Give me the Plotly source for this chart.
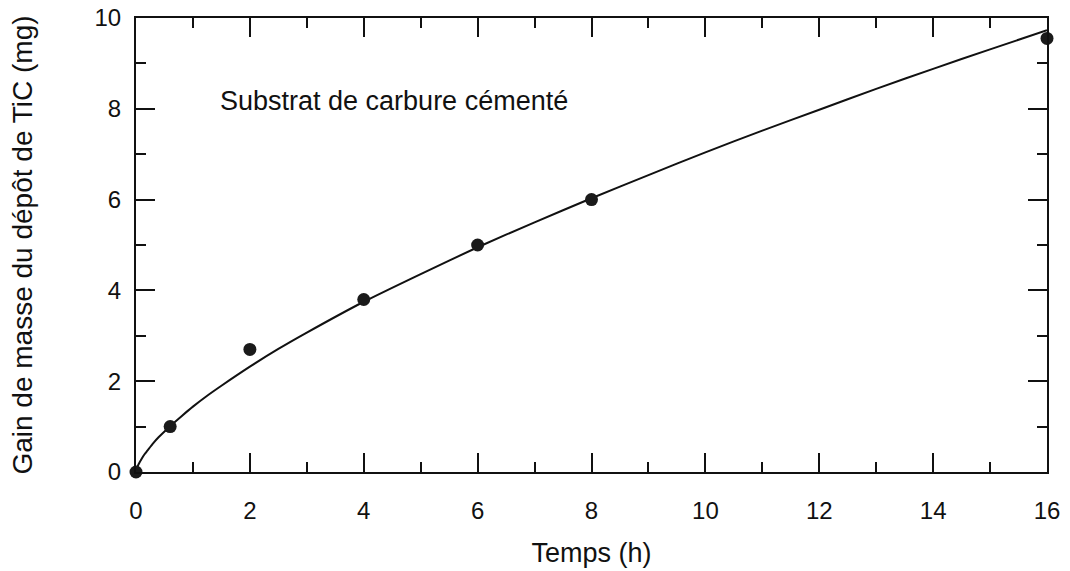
import plotly.graph_objects as go

# Measured data points
time_h = [0, 0.6, 2, 4, 6, 8, 16]
mass_mg = [0, 1.0, 2.7, 3.8, 5.0, 6.0, 9.55]

# Fitted curve, values
curve_x = [0, 0.02, 0.05, 0.1, 0.15, 0.2, 0.3, 0.4, 0.6, 0.8, 1, 1.25, 1.5, 2, 2.5, 3, 4, 5, 6, 7, 8, 9, 10, 11, 12, 13, 14, 15, 16]
curve_y = [0, 0.10, 0.18, 0.29, 0.39, 0.47, 0.63, 0.77, 1.01, 1.23, 1.44, 1.68, 1.90, 2.32, 2.71, 3.07, 3.75, 4.36, 4.95, 5.50, 6.03, 6.54, 7.04, 7.52, 7.98, 8.44, 8.88, 9.31, 9.73]

x_ticks = [0, 2, 4, 6, 8, 10, 12, 14, 16]
y_ticks = [0, 2, 4, 6, 8, 10]

FONT = "Liberation Sans, Arial, sans-serif"
INK = "#111111"

fig = go.Figure()
fig.add_trace(go.Scatter(x=curve_x, y=curve_y, mode="lines",
                         line=dict(color=INK, width=2, shape="spline", smoothing=0.6),
                         showlegend=False, hoverinfo="skip", cliponaxis=False))
fig.add_trace(go.Scatter(x=time_h, y=mass_mg, mode="markers",
                         marker=dict(color="#1a1a1a", size=13),
                         showlegend=False, cliponaxis=False))

fig.add_annotation(x=1.44, y=8.17, xref="x", yref="y", text="Substrat de carbure cémenté",
                   showarrow=False, xanchor="left", yanchor="middle",
                   font=dict(family=FONT, size=27, color=INK))

axis_common = dict(showgrid=False, zeroline=False, showline=True, linecolor=INK,
                   linewidth=2, mirror="ticks", ticks="inside", ticklen=19, tickwidth=2,
                   tickcolor=INK, tickfont=dict(family=FONT, size=24, color=INK),
                   automargin=False, ticklabeloverflow="allow")

fig.update_xaxes(range=[0, 16], tickvals=x_ticks, ticktext=[str(v) for v in x_ticks],
                 minor=dict(ticks="inside", ticklen=10, tickwidth=2, dtick=1, tick0=0, tickcolor=INK),
                 title=dict(text="Temps (h)", font=dict(family=FONT, size=27, color=INK), standoff=20),
                 ticklabelstandoff=16, **axis_common)
fig.update_yaxes(range=[0, 10], tickvals=y_ticks, ticktext=[str(v) for v in y_ticks],
                 minor=dict(ticks="inside", ticklen=10, tickwidth=2, dtick=1, tick0=0, tickcolor=INK),
                 title=dict(text="Gain de masse du dépôt de TiC (mg)", font=dict(family=FONT, size=28, color=INK), standoff=54),
                 ticklabelstandoff=8, **axis_common)

fig.update_layout(width=1070, height=571, margin=dict(l=136, r=23, t=18, b=99),
                  paper_bgcolor="white", plot_bgcolor="white")

# Remove the default 8px page margin so the figure fills the window exactly.
fig.write_html("out.html", config={"displayModeBar": False},
               post_script="document.body.style.margin='0';document.body.style.overflow='hidden';")
